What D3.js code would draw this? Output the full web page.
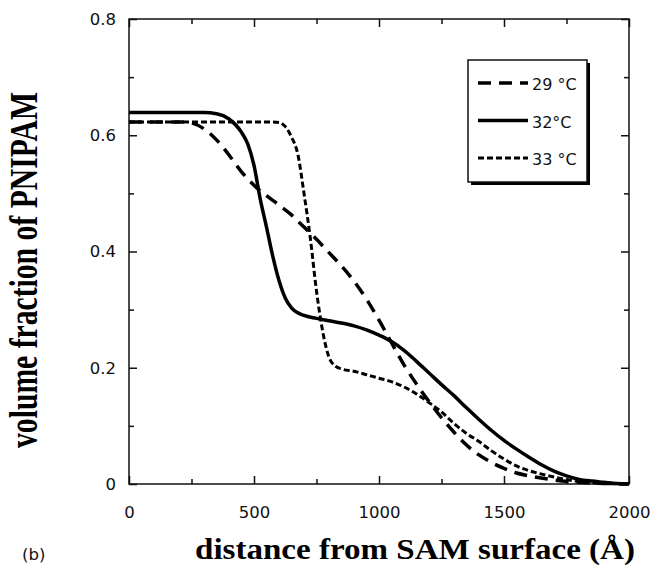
<!DOCTYPE html>
<html>
<head>
<meta charset="utf-8">
<script src="https://cdn.jsdelivr.net/npm/d3@7"></script>
<style>
  body { margin: 0; background: #fff; }
</style>
</head>
<body>
<div id="chart"></div>
<script>
// distance from SAM surface (Å) and volume fraction for each temperature
var dist29 = [0, 200, 250, 300, 350, 400, 450, 500, 550, 600, 650, 700, 750, 800, 850, 900, 950, 1000,
              1050, 1100, 1150, 1200, 1250, 1300, 1350, 1400, 1450, 1500, 1550, 1600, 1700, 1800, 1900, 2000];
var frac29 = [0.623, 0.623, 0.621, 0.611, 0.592, 0.566, 0.537, 0.514, 0.496, 0.480, 0.463, 0.442, 0.421, 0.398, 0.375, 0.349, 0.318, 0.282,
              0.243, 0.205, 0.172, 0.142, 0.114, 0.089, 0.067, 0.050, 0.037, 0.027, 0.019, 0.014, 0.007, 0.003, 0.001, 0.0];

var dist32 = [0, 300, 350, 400, 450, 475, 500, 525, 550, 575, 600, 625, 650, 700, 750, 800, 850, 900, 950, 1000,
              1050, 1100, 1150, 1200, 1250, 1300, 1350, 1400, 1450, 1500, 1550, 1600, 1650, 1700, 1750, 1800, 1850, 1900, 1950, 2000];
var frac32 = [0.639, 0.639, 0.637, 0.628, 0.605, 0.585, 0.548, 0.490, 0.442, 0.392, 0.350, 0.320, 0.303, 0.290, 0.285, 0.281, 0.277, 0.272, 0.265, 0.256,
              0.245, 0.230, 0.211, 0.191, 0.171, 0.152, 0.131, 0.111, 0.092, 0.075, 0.060, 0.046, 0.033, 0.022, 0.014, 0.008, 0.005, 0.003, 0.001, 0.0005];

var dist33 = [0, 550, 600, 625, 650, 675, 700, 725, 750, 775, 800, 825, 850, 900, 950, 1000, 1050, 1100, 1150, 1200,
              1250, 1300, 1350, 1400, 1450, 1500, 1550, 1600, 1650, 1700, 1800, 1900, 2000];
var frac33 = [0.623, 0.623, 0.622, 0.615, 0.597, 0.568, 0.500, 0.424, 0.332, 0.262, 0.218, 0.203, 0.198, 0.194, 0.188, 0.182, 0.176, 0.167, 0.155, 0.140,
              0.124, 0.104, 0.087, 0.073, 0.057, 0.043, 0.031, 0.023, 0.017, 0.012, 0.004, 0.001, 0.0];

var seriesLabels = ['29 °C', '32°C', '33 °C'];
var xTicks = [0, 500, 1000, 1500, 2000];
var yTicks = [0, 0.2, 0.4, 0.6, 0.8];

var W = 654, H = 565;
var margin = {top: 19, right: 25, bottom: 81, left: 129};
var width = W - margin.left - margin.right,
    height = H - margin.top - margin.bottom;

var svg = d3.select('#chart').append('svg')
    .attr('width', W)
    .attr('height', H);

var g = svg.append('g').attr('transform', 'translate(' + margin.left + ',' + margin.top + ')');

var x = d3.scaleLinear().domain([0, 2000]).range([0, width]);
var y = d3.scaleLinear().domain([0, 0.8]).range([height, 0]);

var tickFont = '"DejaVu Sans", Verdana, sans-serif';
var titleFont = '"Liberation Serif", "Times New Roman", serif';

function styleAxis(sel) {
    sel.select('.domain').remove();
    sel.selectAll('line').attr('stroke', '#111').attr('stroke-width', 1.5);
    sel.selectAll('text').attr('fill', '#111').style('font-family', tickFont).style('font-size', '16.5px');
}

// major and minor ticks, all pointing inward
g.append('g').attr('transform', 'translate(0,' + height + ')')
    .call(d3.axisBottom(x).tickValues(xTicks).tickSizeInner(-8).tickSizeOuter(0).tickPadding(22).tickFormat(d3.format('d')))
    .call(styleAxis);
g.append('g').attr('transform', 'translate(0,' + height + ')')
    .call(d3.axisBottom(x).tickValues([250, 750, 1250, 1750]).tickSizeInner(-5).tickSizeOuter(0).tickFormat(''))
    .call(styleAxis);
g.append('g')
    .call(d3.axisTop(x).tickValues(xTicks).tickSizeInner(-8).tickSizeOuter(0).tickFormat(''))
    .call(styleAxis);
g.append('g')
    .call(d3.axisTop(x).tickValues([250, 750, 1250, 1750]).tickSizeInner(-5).tickSizeOuter(0).tickFormat(''))
    .call(styleAxis);

g.append('g')
    .call(d3.axisLeft(y).tickValues(yTicks).tickSizeInner(-8).tickSizeOuter(0).tickPadding(13)
        .tickFormat(function (d) { return d === 0 ? '0' : d3.format('.1f')(d); }))
    .call(styleAxis);
g.append('g')
    .call(d3.axisLeft(y).tickValues([0.1, 0.3, 0.5, 0.7]).tickSizeInner(-5).tickSizeOuter(0).tickFormat(''))
    .call(styleAxis);
g.append('g').attr('transform', 'translate(' + width + ',0)')
    .call(d3.axisRight(y).tickValues(yTicks).tickSizeInner(-8).tickSizeOuter(0).tickFormat(''))
    .call(styleAxis);
g.append('g').attr('transform', 'translate(' + width + ',0)')
    .call(d3.axisRight(y).tickValues([0.1, 0.3, 0.5, 0.7]).tickSizeInner(-5).tickSizeOuter(0).tickFormat(''))
    .call(styleAxis);

// frame
g.append('rect')
    .attr('width', width).attr('height', height)
    .attr('fill', 'none').attr('stroke', '#111').attr('stroke-width', 1.5);

var line = d3.line()
    .x(function (d) { return x(d[0]); })
    .y(function (d) { return y(d[1]); })
    .curve(d3.curveMonotoneX);

var series = [
    {dist: dist29, frac: frac29, dash: '13,8', w: 3.5},
    {dist: dist32, frac: frac32, dash: null, w: 3.5},
    {dist: dist33, frac: frac33, dash: '6,3', w: 3}
];

series.forEach(function (s) {
    g.append('path')
        .datum(d3.zip(s.dist, s.frac))
        .attr('d', line)
        .attr('fill', 'none')
        .attr('stroke', '#000')
        .attr('stroke-width', s.w)
        .attr('stroke-dasharray', s.dash);
});

// legend box with drop shadow
var lg = svg.append('g').attr('transform', 'translate(468,60)');
lg.append('rect').attr('x', 3).attr('y', 3).attr('width', 119).attr('height', 122).attr('fill', '#000');
lg.append('rect').attr('width', 119).attr('height', 122)
    .attr('fill', '#fff').attr('stroke', '#111').attr('stroke-width', 1.5);

series.forEach(function (s, i) {
    var ly = 23 + i * 37.5;
    lg.append('line')
        .attr('x1', 10).attr('x2', 60).attr('y1', ly).attr('y2', ly)
        .attr('stroke', '#000').attr('stroke-width', s.w)
        .attr('stroke-dasharray', s.dash);
    lg.append('text')
        .attr('x', 64).attr('y', ly + 7)
        .style('font-family', tickFont).style('font-size', '16px')
        .attr('fill', '#111')
        .text(seriesLabels[i]);
});

// axis titles
svg.append('text')
    .attr('x', 415).attr('y', 559)
    .attr('text-anchor', 'middle')
    .attr('textLength', 440).attr('lengthAdjust', 'spacingAndGlyphs')
    .style('font-family', titleFont).style('font-weight', 'bold').style('font-size', '30px')
    .text('distance from SAM surface (Å)');

svg.append('text')
    .attr('transform', 'translate(37,270) scale(1.3,1) rotate(-90)')
    .attr('text-anchor', 'middle')
    .attr('textLength', 356).attr('lengthAdjust', 'spacingAndGlyphs')
    .style('font-family', titleFont).style('font-weight', 'bold').style('font-size', '30px')
    .text('volume fraction of PNIPAM');

svg.append('text')
    .attr('x', 22).attr('y', 560)
    .style('font-family', tickFont).style('font-size', '16.5px')
    .attr('fill', '#111')
    .text('(b)');
</script>
</body>
</html>
